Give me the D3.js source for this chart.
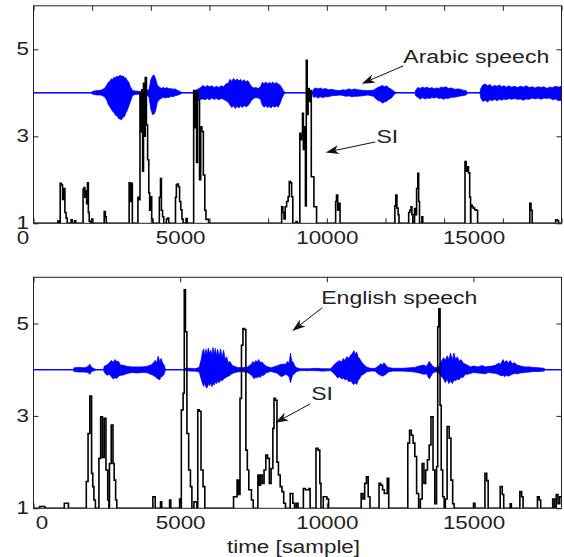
<!DOCTYPE html>
<html>
<head>
<meta charset="utf-8">
<script src="https://cdn.jsdelivr.net/npm/d3@7"></script>
<style>
  html, body { margin: 0; padding: 0; background: #fff; }
  svg { display: block; }
  text { font-family: "Liberation Sans", Arial, Helvetica, sans-serif; fill: #222; }
</style>
</head>
<body>
<svg id="chart" width="564" height="557"></svg>
<script>
// ---- axis definitions ----
const xDomain = [0, 18000];
const yDomain = [1, 6];
const xLabelTicks = [0, 5000, 10000, 15000];
const yLabelTicks = [1, 3, 5];
const xMinorTicksTop = [0, 2000, 4000, 6000, 8000, 10000, 12000, 14000, 16000, 18000];
const xMinorTicksBottom = [0, 5000, 10000, 15000];
const speechCenter = 4;

// ---- Arabic speech envelope: [sample, amplitude above centre, amplitude below centre] ----
const speechArabic = [
  [0,0,0],[1980,0,0],
  [2000,0.03,0.03],[2150,0.05,0.05],[2300,0.06,0.05],[2420,0.1,0.09],
  [2500,0.18,0.17],[2550,0.24,0.27],[2600,0.26,0.32],[2650,0.32,0.37],[2700,0.31,0.43],[2750,0.36,0.46],
  [2800,0.35,0.52],[2850,0.38,0.53],[2900,0.37,0.59],[2950,0.41,0.6],[3000,0.38,0.62],[3050,0.39,0.56],
  [3100,0.35,0.55],[3150,0.34,0.46],[3200,0.28,0.4],[3250,0.24,0.3],[3300,0.14,0.21],[3370,0.06,0.07],
  [3450,0.04,0.04],[3650,0.03,0.03],[3850,0.04,0.04],[3940,0.08,0.1],
  [4000,0.3,0.38],[4060,0.39,0.5],[4110,0.41,0.49],[4160,0.33,0.42],[4220,0.18,0.22],[4300,0.13,0.15],
  [4360,0.1,0.13],[4420,0.12,0.1],[4490,0.1,0.12],[4550,0.12,0.1],[4620,0.09,0.11],[4680,0.1,0.08],
  [4750,0.08,0.09],[4820,0.09,0.07],[4930,0.05,0.05],[5030,0.02,0.02],[5060,0,0],
  [5480,0,0],[5500,0.05,0.06],[5620,0.09,0.1],[5700,0.12,0.15],
  [5780,0.17,0.14],[5850,0.13,0.16],[5920,0.17,0.13],[6000,0.14,0.16],[6080,0.16,0.12],[6160,0.12,0.15],
  [6240,0.15,0.13],[6320,0.12,0.16],[6400,0.16,0.13],[6480,0.14,0.15],[6560,0.2,0.18],[6640,0.22,0.22],
  [6700,0.31,0.28],[6760,0.26,0.34],[6820,0.33,0.3],[6880,0.28,0.36],[6940,0.32,0.31],[7000,0.27,0.35],
  [7060,0.31,0.3],[7120,0.26,0.34],[7180,0.3,0.29],[7240,0.25,0.32],[7300,0.28,0.3],[7360,0.22,0.26],
  [7420,0.15,0.18],[7500,0.11,0.13],[7580,0.12,0.11],[7660,0.1,0.12],[7740,0.14,0.15],
  [7800,0.24,0.28],[7860,0.21,0.33],[7920,0.25,0.3],[7980,0.2,0.34],[8040,0.24,0.31],[8100,0.21,0.35],
  [8160,0.25,0.3],[8220,0.2,0.33],[8280,0.24,0.3],[8340,0.2,0.33],[8400,0.18,0.25],[8460,0.12,0.14],
  [8520,0.05,0.05],[8580,0,0],
  [9500,0,0],[9540,0.08,0.1],[9620,0.11,0.09],[9700,0.09,0.12],[9780,0.11,0.09],[9860,0.08,0.11],
  [9950,0.1,0.09],[10050,0.07,0.09],[10150,0.08,0.07],[10300,0.06,0.06],[10450,0.05,0.05],[10550,0.07,0.06],
  [10650,0.06,0.08],[10750,0.09,0.07],[10850,0.07,0.09],[10950,0.09,0.08],[11050,0.07,0.08],[11200,0.06,0.07],
  [11400,0.05,0.05],[11590,0.06,0.08],[11680,0.1,0.14],[11760,0.13,0.18],[11840,0.15,0.2],[11900,0.17,0.24],
  [11960,0.14,0.21],[12030,0.16,0.2],[12100,0.12,0.16],[12200,0.08,0.12],[12320,0.02,0.02],[12360,0,0],
  [13000,0,0],[13030,0.06,0.07],[13100,0.12,0.1],[13180,0.1,0.15],[13260,0.13,0.11],[13340,0.11,0.14],
  [13420,0.13,0.12],[13500,0.1,0.13],[13580,0.12,0.11],[13660,0.09,0.12],[13740,0.11,0.1],[13820,0.1,0.13],
  [13900,0.13,0.12],[13980,0.12,0.15],[14060,0.14,0.12],[14140,0.1,0.13],[14250,0.11,0.1],[14350,0.08,0.1],
  [14500,0.09,0.08],[14650,0.06,0.06],[14750,0.05,0.05],[14800,0,0],
  [15220,0,0],[15250,0.1,0.12],[15320,0.18,0.2],[15400,0.2,0.17],[15480,0.16,0.21],[15560,0.19,0.16],
  [15640,0.14,0.18],[15720,0.17,0.15],[15800,0.15,0.18],[15880,0.18,0.15],[15960,0.14,0.17],[16040,0.16,0.14],
  [16120,0.13,0.16],[16200,0.16,0.13],[16300,0.13,0.15],[16400,0.15,0.13],[16500,0.12,0.15],[16600,0.15,0.14],
  [16700,0.13,0.17],[16800,0.16,0.14],[16900,0.12,0.15],[17000,0.14,0.12],[17100,0.11,0.14],[17200,0.14,0.12],
  [17300,0.12,0.15],[17400,0.14,0.12],[17500,0.1,0.13],[17600,0.13,0.12],[17700,0.12,0.16],[17800,0.15,0.14],
  [17900,0.13,0.18],[18000,0.15,0.17]
];

// ---- SI for the Arabic recording: [sample, SI] ----
const siArabic = [
  [0,1],[790,1],[830,1.05],[880,1],
  [910,1.92],[950,1.88],[990,1.55],[1030,1.8],[1070,1.25],[1110,1.12],[1150,1],
  [1280,1.08],[1320,1],[1400,1.06],[1440,1],
  [1670,1],[1690,1.78],[1720,1.82],[1750,1.6],[1780,1.75],[1810,1.45],[1840,1.93],[1870,1.25],[1900,1.05],[1940,1],
  [1990,1.1],[2020,1],
  [2390,1],[2410,1.27],[2450,1.15],[2480,1],
  [3240,1],[3260,1.93],[3300,1.5],[3330,1.92],[3370,1],
  [3540,1],[3560,1.6],[3600,1.54],[3630,4.0],[3660,3.1],[3690,4.07],[3720,2.2],[3750,4.22],[3780,3.0],[3810,4.35],
  [3850,3.26],[3890,2.46],[3930,1.7],[3960,1.3],[3990,1.61],[4030,1.1],[4070,1],
  [4270,1],[4290,1.6],[4330,2.03],[4360,1.3],[4400,1.15],[4440,1],
  [4520,1],[4530,1.1],[4570,1.12],[4610,1],
  [4820,1],[4840,1.6],[4870,1.88],[4900,1.9],[4940,1.84],[4980,1.5],[5020,1.31],[5060,1.1],[5100,1],
  [5190,1],[5200,1.11],[5240,1],
  [5440,1],[5460,4.05],[5500,3.2],[5530,3.99],[5560,2.4],[5590,4.03],[5620,3.84],[5660,2.0],[5700,3.22],[5740,3.11],
  [5790,2.11],[5840,1.3],[5880,1.09],[5930,1.09],[5970,1],
  [8440,1],[8460,1.38],[8500,1.25],[8540,1.1],[8580,1.38],[8630,1.5],[8680,1.61],[8720,1.96],[8760,1.93],[8800,1.61],[8840,1],
  [8940,1],[8950,1.04],[8990,1],
  [9060,1],[9080,3.07],[9110,2.92],[9140,3.0],[9170,3.53],[9200,2.7],[9240,3.22],[9270,1.4],[9300,4.75],[9330,3.5],
  [9360,4.1],[9400,3.8],[9430,4.05],[9470,2.07],[9520,2.07],[9560,1.38],[9610,1.38],[9650,1],
  [10280,1],[10300,1.5],[10330,1.65],[10370,1.3],[10410,1.46],[10450,1],
  [12310,1],[12320,1.4],[12350,1.65],[12390,1.35],[12430,1.2],[12460,1],
  [12780,1],[12790,1.25],[12830,1.3],[12870,1.38],[12900,1.2],[12930,1],[12990,1.34],[13030,1.2],[13060,1.8],
  [13100,2.15],[13130,1.5],[13160,1],
  [13230,1],[13240,1.15],[13270,1],
  [14700,1],[14710,2.42],[14750,2.2],[14790,2.3],[14830,2.16],[14870,1.6],[14900,1],[14910,1.42],[14950,1.38],
  [14990,1.35],[15040,1.31],[15090,1.3],[15140,1],
  [16910,1],[16920,1.46],[16960,1.3],[17000,1],
  [17780,1],[17800,1.08],[17860,1.06],[17900,1],[18000,1]
];

// ---- English speech envelope: [sample, amplitude above centre, amplitude below centre] ----
const speechEnglish = [
  [0,0,0],[1360,0,0],[1380,0.04,0.04],[1550,0.05,0.05],[1750,0.04,0.05],[1860,0.07,0.06],[1920,0.12,0.1],[1980,0.05,0.04],
  [2080,0.02,0.02],[2150,0,0],[2380,0,0],
  [2420,0.08,0.06],[2500,0.1,0.12],[2580,0.14,0.1],[2650,0.2,0.15],[2720,0.16,0.2],[2780,0.22,0.17],
  [2840,0.17,0.19],[2900,0.18,0.14],[2960,0.1,0.12],
  [3025,0.1,0.12],[3200,0.07,0.08],[3350,0.06,0.06],[3514,0.06,0.07],[3700,0.06,0.06],[3850,0.07,0.06],
  [4004,0.1,0.1],[4080,0.14,0.12],[4150,0.2,0.15],[4200,0.15,0.18],[4249,0.29,0.2],[4300,0.18,0.22],
  [4350,0.24,0.15],[4400,0.15,0.14],[4450,0.1,0.1],[4494,0.02,0.02],[4520,0,0],
  [5150,0,0],[5180,0.03,0.02],[5350,0.03,0.03],[5500,0.02,0.03],[5650,0.05,0.05],
  [5718,0.22,0.2],[5760,0.38,0.3],[5800,0.45,0.36],[5840,0.3,0.28],[5880,0.44,0.38],[5920,0.32,0.39],
  [5960,0.47,0.3],[6000,0.35,0.35],[6040,0.42,0.28],[6080,0.3,0.37],[6120,0.48,0.3],[6160,0.33,0.33],
  [6200,0.46,0.27],[6240,0.3,0.3],[6280,0.44,0.25],[6330,0.28,0.28],[6380,0.45,0.22],[6430,0.25,0.24],
  [6480,0.42,0.2],[6530,0.22,0.18],[6580,0.28,0.16],[6640,0.15,0.14],[6700,0.18,0.12],[6760,0.1,0.09],
  [6820,0.08,0.07],[6943,0.05,0.05],[7100,0.04,0.04],[7300,0.06,0.06],
  [7433,0.12,0.12],[7480,0.18,0.16],[7530,0.14,0.2],[7580,0.2,0.15],[7630,0.16,0.18],[7680,0.22,0.14],
  [7730,0.15,0.17],[7780,0.17,0.12],[7850,0.12,0.12],[7950,0.07,0.06],[8100,0.04,0.04],
  [8290,0.08,0.07],[8450,0.12,0.15],[8600,0.12,0.1],[8660,0.18,0.12],[8720,0.14,0.16],[8760,0.36,0.28],
  [8800,0.2,0.18],[8850,0.16,0.1],[8910,0.08,0.08],
  [8970,0.04,0.04],[9100,0.02,0.02],[9400,0.02,0.02],[9600,0.03,0.02],[9850,0.02,0.03],[10127,0.02,0.02],
  [10188,0.06,0.05],[10300,0.14,0.12],[10372,0.17,0.18],[10440,0.2,0.15],[10500,0.16,0.2],[10560,0.24,0.18],
  [10616,0.2,0.22],[10680,0.28,0.2],[10750,0.25,0.26],[10820,0.32,0.24],[10880,0.36,0.3],[10923,0.41,0.32],
  [10970,0.34,0.28],[11020,0.38,0.32],[11060,0.28,0.24],[11106,0.25,0.2],[11180,0.17,0.12],[11250,0.12,0.1],
  [11351,0.06,0.05],[11473,0.03,0.03],[11650,0.03,0.03],
  [11760,0.08,0.1],[11841,0.13,0.12],[11900,0.1,0.14],[11950,0.15,0.12],[12020,0.09,0.1],[12086,0.05,0.05],
  [12250,0.03,0.03],[12600,0.03,0.03],[12821,0.04,0.04],
  [13000,0.05,0.05],[13150,0.08,0.07],[13310,0.1,0.1],[13400,0.07,0.09],[13494,0.18,0.2],[13600,0.08,0.08],
  [13678,0.05,0.05],[13800,0.05,0.05],
  [13923,0.2,0.16],[13980,0.26,0.2],[14040,0.2,0.28],[14100,0.3,0.2],[14160,0.22,0.3],[14220,0.36,0.24],
  [14280,0.2,0.3],[14330,0.36,0.22],[14390,0.22,0.24],[14450,0.28,0.2],[14510,0.18,0.22],[14570,0.22,0.16],
  [14640,0.15,0.17],[14720,0.12,0.1],[14780,0.1,0.1],
  [14900,0.06,0.08],[15000,0.08,0.06],[15150,0.06,0.07],[15300,0.09,0.08],[15400,0.06,0.09],[15500,0.07,0.06],
  [15650,0.08,0.07],[15759,0.1,0.08],[15850,0.14,0.1],[15930,0.12,0.13],[16004,0.22,0.12],[16060,0.15,0.15],
  [16120,0.2,0.12],[16180,0.14,0.14],[16249,0.2,0.12],[16320,0.13,0.1],[16400,0.15,0.08],[16480,0.1,0.09],
  [16600,0.08,0.07],[16750,0.06,0.06],[16900,0.06,0.05],[17050,0.05,0.04],[17200,0.04,0.04],
  [17412,0.03,0.03],[17450,0,0],[18000,0,0]
];

// ---- SI for the English recording: [sample, SI] ----
const siEnglish = [
  [0,1],[200,1],[210,1.04],[390,1],
  [1040,1],[1050,1.11],[1190,1],
  [1770,1],[1800,1.58],[1860,2.62],[1920,3.43],[1980,1.76],[2020,1.47],[2060,1.18],[2110,1],
  [2200,1],[2230,2.08],[2290,2.98],[2350,2.1],[2410,2.95],[2470,1.83],[2530,1.18],[2570,1],
  [2590,1.97],[2650,2.8],[2710,1.97],[2750,1.61],[2800,1.18],[2840,1],
  [4060,1],[4070,1.25],[4150,1],[4320,1],[4330,1.14],[4370,1],[4630,1],[4640,1.18],[4680,1],[4970,1],[4980,1.2],[5020,1],
  [5040,3.13],[5100,3.49],[5140,5.73],[5180,4.82],[5230,2.62],[5290,1.83],[5350,1.47],[5400,1],[5470,1.14],[5570,1],
  [5600,3.13],[5650,3.1],[5710,1.83],[5780,1.47],[5840,1],
  [6810,1],[6820,1.25],[6880,1.25],[6940,1.61],[6990,1.3],
  [7040,3.38],[7090,4.53],[7140,4.89],[7190,4.87],[7240,2.26],[7290,1.83],[7340,1.4],[7430,1.18],[7490,1],
  [7650,1.72],[7700,1.5],[7740,1.72],[7800,1.54],[7860,1.83],[7920,2.15],[7980,2.08],[8040,1.54],[8100,1.86],
  [8160,2.73],[8200,3.38],[8250,3.34],[8300,2.0],[8350,1.72],[8410,1.47],[8470,1.36],[8530,1.11],[8590,1],
  [8750,1.32],[8840,1.11],[8900,1],[8960,1.11],[9020,1],
  [9200,1.43],[9270,1.4],[9330,1.4],[9390,1.43],[9430,1],
  [9630,2.3],[9700,2.26],[9760,1.54],[9800,1],
  [9880,1.25],[10000,1.2],[10060,1],
  [11160,1],[11170,1.32],[11230,1.2],[11290,1.54],[11350,1.68],[11410,1.25],[11470,1],
  [11720,1],[11780,1.54],[11840,1.5],[11900,1.4],[11960,1.32],[12060,1.65],[12110,1],
  [12700,1],[12760,2.41],[12820,2.69],[12880,2.58],[12940,2.41],[13000,2.12],[13060,1.32],[13130,1],
  [13190,1.2],[13250,1.97],[13310,1.54],[13370,1.83],[13430,2.05],[13490,2.37],[13550,2.98],[13620,1.83],[13680,1.1],
  [13740,1.9],[13780,4.93],[13820,5.32],[13860,3.23],[13900,1.83],[13950,1.25],[14000,1],
  [14040,1.2],[14100,2.77],[14170,2.52],[14230,1.61],[14290,1.1],[14340,1],
  [14990,1],[15000,1.11],[15050,1],
  [15380,1],[15390,1.76],[15450,1.6],[15500,1],
  [15900,1],[15910,1.47],[15980,1.3],[16030,1],
  [16240,1],[16250,1.1],[16290,1],
  [16570,1],[16580,1.36],[16640,1.25],[16690,1],
  [17170,1],[17180,1.25],[17240,1.18],[17290,1],
  [17690,1],[17700,1.2],[17760,1],[17820,1.3],[17880,1.1],[17940,1.25],[18000,1.25]
];

// ---- annotation labels: [text, sample, value] and arrows: [fromSample, fromValue, toSample, toValue] ----
const notesArabic = [["Arabic speech", 12608, 4.68], ["SI", 11690, 2.84]];
const arrowsArabic = [[12608, 4.62, 11192, 4.21], [11652, 2.87, 9964, 2.63]];
const notesEnglish = [["English speech", 9810, 5.42], ["SI", 9469, 3.34]];
const arrowsEnglish = [[9844, 5.34, 8821, 4.84], [9435, 3.26, 8240, 2.85]];
const xAxisTitle = "time [sample]";

// ---- layout ----
const svg = d3.select("#chart");
const plotLeft = 33.5, plotRight = 561.5;
const textStretch = 1.28;

const panels = [
  { id: "arabic", top: 5.8, bottom: 223.3, speech: speechArabic, si: siArabic,
    notes: notesArabic, arrows: arrowsArabic, minorTicks: xMinorTicksTop, zeroShift: -11 },
  { id: "english", top: 277.3, bottom: 508.3, speech: speechEnglish, si: siEnglish,
    notes: notesEnglish, arrows: arrowsEnglish, minorTicks: xMinorTicksBottom, zeroShift: 8 }
];

function drawArrow(g, x, y, a) {
  const x1 = x(a[0]), y1 = y(a[1]), x2 = x(a[2]), y2 = y(a[3]);
  const dx = x1 - x2, dy = y1 - y2, len = Math.hypot(dx, dy);
  const ux = dx / len, uy = dy / len, nx = -uy, ny = ux;
  const L = 13, W = 4.5, notch = 3.5;
  g.append("line")
    .attr("x1", x1).attr("y1", y1)
    .attr("x2", x2 + ux * (L - notch)).attr("y2", y2 + uy * (L - notch))
    .attr("stroke", "#111").attr("stroke-width", 1);
  const pts = [
    [x2, y2],
    [x2 + ux * L + nx * W, y2 + uy * L + ny * W],
    [x2 + ux * (L - notch), y2 + uy * (L - notch)],
    [x2 + ux * L - nx * W, y2 + uy * L - ny * W]
  ];
  g.append("polygon").attr("points", pts.map(p => p.join(",")).join(" ")).attr("fill", "#111");
}

panels.forEach(p => {
  const x = d3.scaleLinear().domain(xDomain).range([plotLeft, plotRight]);
  const y = d3.scaleLinear().domain(yDomain).range([p.bottom, p.top]);
  const g = svg.append("g").attr("class", "panel-" + p.id);

  const clipId = "clip-" + p.id;
  g.append("clipPath").attr("id", clipId).append("rect")
    .attr("x", plotLeft).attr("y", p.top)
    .attr("width", plotRight - plotLeft).attr("height", p.bottom - p.top);

  const plot = g.append("g").attr("clip-path", `url(#${clipId})`);

  // speech waveform: centre line and envelope
  plot.append("line")
    .attr("x1", x(xDomain[0])).attr("x2", x(xDomain[1]))
    .attr("y1", y(speechCenter)).attr("y2", y(speechCenter))
    .attr("stroke", "#0000ff").attr("stroke-width", 1.1);
  const area = d3.area()
    .x(d => x(d[0]))
    .y0(d => y(speechCenter - d[2]))
    .y1(d => y(speechCenter + d[1]));
  plot.append("path").datum(p.speech)
    .attr("d", area)
    .attr("fill", "#0000ff").attr("stroke", "#0000ff").attr("stroke-width", 0.8);

  // SI trace
  const line = d3.line().x(d => x(d[0])).y(d => y(d[1])).curve(d3.curveStepAfter);
  plot.append("path").datum(p.si)
    .attr("d", line)
    .attr("fill", "none").attr("stroke", "#000").attr("stroke-width", 1.6);

  // frame
  g.append("rect")
    .attr("x", plotLeft).attr("y", p.top)
    .attr("width", plotRight - plotLeft).attr("height", p.bottom - p.top)
    .attr("fill", "none").attr("stroke", "#222").attr("stroke-width", 1);

  // inward tick marks on all four sides
  const tickLen = -5;
  const tickStyle = sel => {
    sel.select(".domain").remove();
    sel.selectAll(".tick line").attr("stroke", "#222");
  };
  g.append("g").attr("transform", `translate(0,${p.bottom})`)
    .call(d3.axisBottom(x).tickValues(p.minorTicks).tickSize(tickLen).tickFormat("")).call(tickStyle);
  g.append("g").attr("transform", `translate(0,${p.top})`)
    .call(d3.axisTop(x).tickValues(p.minorTicks).tickSize(tickLen).tickFormat("")).call(tickStyle);
  g.append("g").attr("transform", `translate(${plotLeft},0)`)
    .call(d3.axisLeft(y).tickValues(yLabelTicks).tickSize(tickLen).tickFormat("")).call(tickStyle);
  g.append("g").attr("transform", `translate(${plotRight},0)`)
    .call(d3.axisRight(y).tickValues(yLabelTicks).tickSize(tickLen).tickFormat("")).call(tickStyle);

  // tick labels
  const xl = g.append("g").attr("transform", `translate(0,${p.bottom})`)
    .call(d3.axisBottom(x).tickValues(xLabelTicks).tickSize(0).tickSizeOuter(0).tickPadding(8).tickFormat(d3.format("d")));
  xl.select(".domain").remove();
  xl.selectAll("text")
    .attr("font-size", 17.5).attr("fill", "#222")
    .attr("font-family", '"Liberation Sans", Arial, Helvetica, sans-serif')
    .attr("transform", d => `translate(${d === 0 ? p.zeroShift : 0},0) scale(${textStretch},1)`);

  const yl = g.append("g").attr("transform", `translate(${plotLeft},0)`)
    .call(d3.axisLeft(y).tickValues(yLabelTicks).tickSize(0).tickSizeOuter(0).tickPadding(3.6).tickFormat(d3.format("d")));
  yl.select(".domain").remove();
  yl.selectAll("text")
    .attr("font-size", 17.5).attr("fill", "#222")
    .attr("font-family", '"Liberation Sans", Arial, Helvetica, sans-serif')
    .attr("transform", `scale(${textStretch},1)`);

  // annotations
  p.notes.forEach(n => {
    g.append("text")
      .attr("transform", `translate(${x(n[1])},${y(n[2])}) scale(${textStretch},1)`)
      .attr("font-size", 18)
      .text(n[0]);
  });
  p.arrows.forEach(a => drawArrow(g, x, y, a));
});

// x-axis title
svg.append("text")
  .attr("transform", `translate(${(plotLeft + plotRight) / 2 - 4},553) scale(${textStretch},1)`)
  .attr("text-anchor", "middle")
  .attr("font-size", 17.5)
  .text(xAxisTitle);
</script>
</body>
</html>
